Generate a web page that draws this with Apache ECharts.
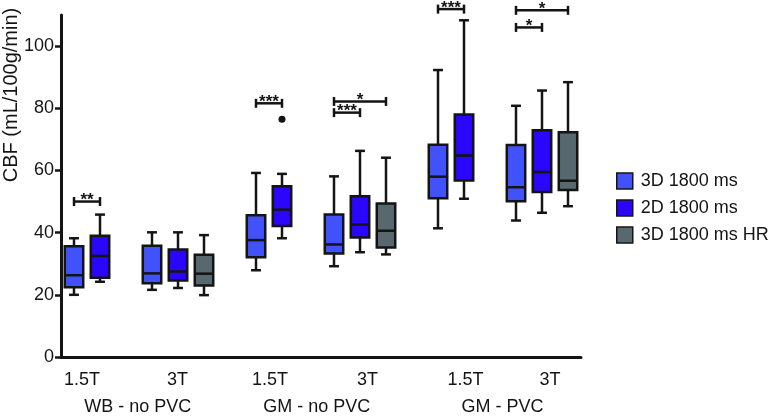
<!DOCTYPE html>
<html>
<head>
<meta charset="utf-8">
<script src="https://cdn.jsdelivr.net/npm/echarts@6/dist/echarts.min.js"></script>
<style>html,body{margin:0;padding:0;background:#fff}#c{width:772px;height:416px}</style>
</head>
<body>
<div id="c"></div>
<script>
// ---- data ----
const regionLabels = ['WB - no PVC', 'GM - no PVC', 'GM - PVC'];
const fieldLabels = ['1.5T', '3T', '1.5T', '3T', '1.5T', '3T'];
const seriesNames = ['3D 1800 ms', '2D 1800 ms', '3D 1800 ms HR'];
const yTicks = [0, 20, 40, 60, 80, 100];
// box stats per category: [min, q1, median, q3, max]; null = not measured
const box3D = [[20.0, 22.4, 26.3, 35.6, 38.2], [21.6, 23.7, 26.9, 35.8, 40.1], [27.9, 32.1, 37.6, 45.6, 59.2], [29.2, 33.3, 36.2, 45.8, 58.1], [41.4, 51.1, 58.0, 68.3, 92.3], [43.9, 50.1, 54.6, 68.2, 80.8]];
const box2D = [[24.2, 25.5, 32.5, 39.0, 45.8], [22.2, 24.6, 27.5, 34.6, 40.1], [38.2, 42.1, 47.4, 54.9, 58.9], [33.7, 38.4, 42.6, 51.7, 66.3], [50.9, 56.8, 64.8, 78.0, 108.3], [46.4, 53.1, 59.5, 72.9, 85.7]];
const boxHR = [null, [19.9, 23.0, 26.8, 32.9, 39.2], null, [33.0, 35.2, 40.6, 49.4, 64.1], null, [48.5, 53.7, 56.7, 72.3, 88.4]];
// outliers: [category, series, value]
const outliers = [[2, 1, 76.5]];
// significance: [category, seriesA, seriesB, bracket value, label]
const sigs = [[0, 0, 1, 50.0, '**'], [2, 0, 1, 81.6, '***'], [3, 0, 1, 78.6, '***'], [3, 0, 2, 82.2, '*'], [4, 0, 1, 111.9, '***'], [5, 0, 1, 106.0, '*'], [5, 0, 2, 111.5, '*']];

// ---- layout (slot positions on the x scale) ----
const slotStart = [0, 3, 7, 10, 14, 17];
const fieldLabelPos = [0.31, 3.98, 7.54, 11.29, 15.06, 18.31];
const regionLabelPos = [2.45, 9.34, 16.48];
const colors = ['#4152fb', '#2a06fb', '#58686f'];
const FONT = "'Liberation Sans', Arial, sans-serif";
const INK = '#141414';

const allBoxes = [box3D, box2D, boxHR];
function seriesData(s) {
  const out = [];
  allBoxes[s].forEach((b, c) => { if (b) out.push([slotStart[c] + s].concat(b)); });
  return out;
}
function lookup(posArr, labels, v) {
  for (let i = 0; i < posArr.length; i++) if (Math.abs(posArr[i] - v) < 1e-6) return labels[i];
  return '';
}
function ls() { return { stroke: INK, lineWidth: 2.5, fill: null }; }
function boxRender(params, api) {
  const x = api.value(0);
  const pts = [1, 2, 3, 4, 5].map(i => api.coord([x, api.value(i)]));
  const slotW = api.size([1, 0])[0];
  const bw = slotW * 0.71, cw = slotW * 0.38;
  const cx = pts[0][0];
  return {
    type: 'group', children: [
      { type: 'line', shape: { x1: cx, y1: pts[4][1], x2: cx, y2: pts[3][1] }, style: ls() },
      { type: 'line', shape: { x1: cx, y1: pts[1][1], x2: cx, y2: pts[0][1] }, style: ls() },
      { type: 'line', shape: { x1: cx - cw / 2, y1: pts[4][1], x2: cx + cw / 2, y2: pts[4][1] }, style: ls() },
      { type: 'line', shape: { x1: cx - cw / 2, y1: pts[0][1], x2: cx + cw / 2, y2: pts[0][1] }, style: ls() },
      { type: 'rect', shape: { x: cx - bw / 2, y: pts[3][1], width: bw, height: pts[1][1] - pts[3][1] }, style: { fill: api.visual('color'), stroke: INK, lineWidth: 2.5 } },
      { type: 'line', shape: { x1: cx - bw / 2, y1: pts[2][1], x2: cx + bw / 2, y2: pts[2][1] }, style: ls() }
    ]
  };
}
function sigRender(params, api) {
  const a = api.coord([api.value(0), api.value(2)]);
  const b = api.coord([api.value(1), api.value(2)]);
  const label = sigs[params.dataIndex][4];
  const h = 4.5;
  return {
    type: 'group', children: [
      { type: 'line', shape: { x1: a[0], y1: a[1], x2: b[0], y2: b[1] }, style: ls() },
      { type: 'line', shape: { x1: a[0], y1: a[1] - h, x2: a[0], y2: a[1] + h }, style: ls() },
      { type: 'line', shape: { x1: b[0], y1: b[1] - h, x2: b[0], y2: b[1] + h }, style: ls() },
      { type: 'text', x: (a[0] + b[0]) / 2, y: a[1] - 1, style: { text: label, fill: INK, font: 'bold 17px ' + FONT, align: 'center', verticalAlign: 'middle' } }
    ]
  };
}

const chart = echarts.init(document.getElementById('c'), null, { renderer: 'canvas' });
const series = seriesNames.map((name, s) => ({
  name: name, type: 'custom', renderItem: boxRender, data: seriesData(s),
  encode: { x: 0, y: [1, 2, 3, 4, 5] }, itemStyle: { color: colors[s] }, clip: false, z: 2
}));
series.push({
  name: 'significance', type: 'custom', renderItem: sigRender, clip: false, z: 3,
  data: sigs.map(d => [slotStart[d[0]] + d[1], slotStart[d[0]] + d[2], d[3]]),
  encode: { x: [0, 1], y: 2 }
});
series.push({
  name: 'outliers', type: 'scatter', symbol: 'circle', symbolSize: 7,
  itemStyle: { color: INK, opacity: 1 }, z: 3,
  data: outliers.map(d => [slotStart[d[0]] + d[1], d[2]])
});

chart.setOption({
  animation: false,
  backgroundColor: '#ffffff',
  textStyle: { fontFamily: FONT },
  grid: { left: 61, right: 191, top: 15, bottom: 58, containLabel: false },
  legend: {
    data: seriesNames, orient: 'vertical', left: 616, top: 172, padding: 0,
    itemWidth: 16, itemHeight: 16, itemGap: 9, icon: 'rect',
    itemStyle: { borderColor: INK, borderWidth: 1.5 },
    textStyle: { fontSize: 18, color: INK, fontFamily: FONT, padding: [0, 0, 0, 3] },
    selectedMode: false
  },
  xAxis: [
    {
      type: 'value', min: -0.5, max: 19.5, position: 'bottom',
      axisLine: { show: true, onZero: false, lineStyle: { color: INK, width: 3 } },
      axisTick: { show: false }, splitLine: { show: false },
      axisLabel: {
        customValues: fieldLabelPos, margin: 14, fontSize: 18, color: INK, fontFamily: FONT,
        formatter: v => lookup(fieldLabelPos, fieldLabels, v)
      }
    },
    {
      type: 'value', min: -0.5, max: 19.5, position: 'bottom',
      axisLine: { show: false, onZero: false }, axisTick: { show: false }, splitLine: { show: false },
      axisLabel: {
        customValues: regionLabelPos, margin: 41, fontSize: 18, color: INK, fontFamily: FONT,
        formatter: v => lookup(regionLabelPos, regionLabels, v)
      }
    }
  ],
  yAxis: {
    type: 'value', min: 0, max: 110, interval: 20,
    axisLine: { show: true, onZero: false, lineStyle: { color: INK, width: 3 } },
    axisTick: { show: true, customValues: yTicks, length: 6, lineStyle: { color: INK, width: 2.5 } },
    splitLine: { show: false },
    axisLabel: { customValues: yTicks, margin: 7, fontSize: 18, color: INK, fontFamily: FONT }
  },
  graphic: [{
    type: 'text', x: 11, y: 95, rotation: Math.PI / 2,
    style: { text: 'CBF (mL/100g/min)', fill: INK, font: '20px ' + FONT, align: 'center', verticalAlign: 'middle' }
  }],
  series: series
});
</script>
</body>
</html>
